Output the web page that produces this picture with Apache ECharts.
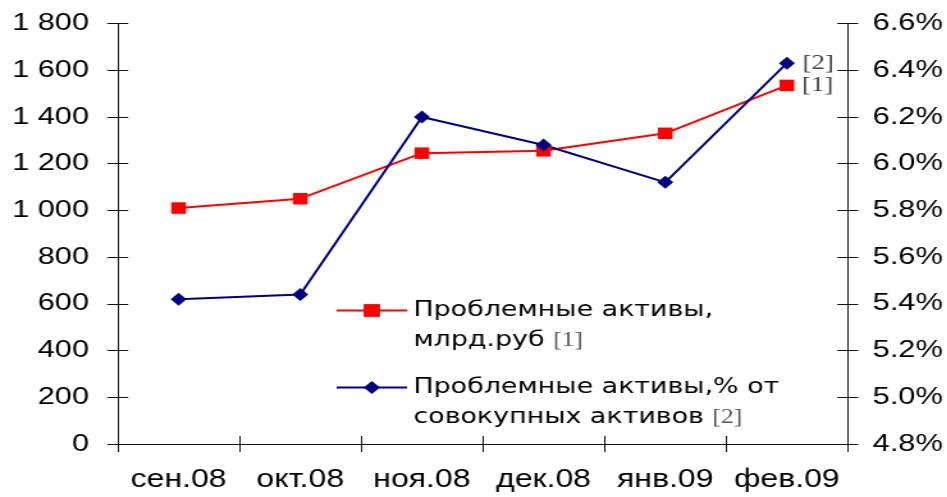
<!DOCTYPE html>
<html>
<head>
<meta charset="utf-8">
<script src="https://cdn.jsdelivr.net/npm/echarts@6/dist/echarts.min.js"></script>
<style>
  html, body { margin: 0; padding: 0; background: #fff; overflow: hidden; }
  /* the chart is laid out narrow and widened, giving the broad lettering of the original */
  #chart { width: 740px; height: 497px; transform: scaleX(1.28); transform-origin: 0 0; }
</style>
</head>
<body>
<div id="chart"></div>
<script>
// Problem assets of the banking sector, Sep 2008 – Feb 2009
const months = ['сен.08', 'окт.08', 'ноя.08', 'дек.08', 'янв.09', 'фев.09'];
const assetsBln = [1010, 1050, 1245, 1255, 1330, 1535];        // bln roubles
const assetsShare = [5.42, 5.44, 6.20, 6.08, 5.92, 6.43];      // % of total assets
const leftScale = { min: 0, max: 1800, interval: 200 };
const rightScale = { min: 4.8, max: 6.6, interval: 0.2 };
const seriesNames = ['Проблемные активы, млрд.руб', 'Проблемные активы,% от совокупных активов'];
const legendLines = [
  ['Проблемные активы,', 'млрд.руб '],
  ['Проблемные активы,% от', 'совокупных активов ']
];
const noteMarks = ['[1]', '[2]'];

const AXIS_COLOR = '#111';
const LABEL_FONT = '"Liberation Sans", Arial, sans-serif';
const NOTE_FONT = '"Liberation Serif", "Times New Roman", serif';

const fmtThousands = v => String(v).replace(/\B(?=(\d{3})+(?!\d))/g, ' ');

// the last point of each series carries its footnote mark
function withEndLabel(values, mark) {
  return values.map((v, i) => i === values.length - 1
    ? { value: v, label: { show: true, formatter: mark } }
    : v);
}

const endLabel = {
  show: false,
  position: 'right',
  distance: 6,
  fontFamily: NOTE_FONT,
  fontSize: 21,
  color: '#444'
};

function legendBlock(idx, top) {
  return {
    data: [seriesNames[idx]],
    orient: 'vertical',
    left: 262,
    top: top,
    padding: 0,
    itemWidth: 55,
    itemHeight: 16,
    itemGap: 0,
    formatter: () => '{t|' + legendLines[idx][0] + '}\n{t|' + legendLines[idx][1] + '}{r|' + noteMarks[idx] + '}',
    textStyle: {
      padding: [30, 0, 0, 0],
      rich: {
        t: { fontFamily: '"DejaVu Sans", sans-serif', fontSize: 21, lineHeight: 30, color: '#000' },
        r: { fontFamily: NOTE_FONT, fontSize: 20, lineHeight: 30, color: '#555' }
      }
    },
    selectedMode: false
  };
}

// ticks crossing the axis: one set outward on the main axes, one inward on twin axes
const tickOut = len => ({ show: true, length: len, inside: false, lineStyle: { color: AXIS_COLOR, width: 1 } });
const tickIn = len => ({ show: true, length: len, inside: true, lineStyle: { color: AXIS_COLOR, width: 1 } });

const option = {
  animation: false,
  backgroundColor: '#fff',
  grid: { left: 92, right: 77.7, top: 23.5, bottom: 53, outerBoundsMode: 'none' },
  legend: [legendBlock(0, 300), legendBlock(1, 377)],
  xAxis: [
    {
      type: 'category',
      data: months,
      position: 'bottom',
      boundaryGap: true,
      axisLine: { show: true, lineStyle: { color: AXIS_COLOR, width: 1 } },
      axisTick: tickOut(8),
      axisLabel: { color: '#000', fontFamily: LABEL_FONT, fontSize: 25, margin: 24, interval: 0 },
      splitLine: { show: false }
    },
    {
      type: 'category',
      data: months,
      position: 'bottom',
      boundaryGap: true,
      axisLine: { show: false },
      axisTick: tickIn(8),
      axisLabel: { show: false },
      splitLine: { show: false }
    }
  ],
  yAxis: [
    {
      type: 'value',
      position: 'left',
      min: leftScale.min, max: leftScale.max, interval: leftScale.interval,
      axisLine: { show: true, lineStyle: { color: AXIS_COLOR, width: 1 } },
      axisTick: tickOut(8.2),
      axisLabel: { color: '#000', fontFamily: LABEL_FONT, fontSize: 24, margin: 22.5, formatter: fmtThousands },
      splitLine: { show: false }
    },
    {
      type: 'value',
      position: 'right',
      min: rightScale.min, max: rightScale.max, interval: rightScale.interval,
      axisLine: { show: true, lineStyle: { color: AXIS_COLOR, width: 1 } },
      axisTick: tickOut(8.2),
      axisLabel: { color: '#000', fontFamily: LABEL_FONT, fontSize: 24, margin: 19.5, formatter: v => v.toFixed(1) + '%' },
      splitLine: { show: false }
    },
    {
      type: 'value',
      position: 'left',
      min: leftScale.min, max: leftScale.max, interval: leftScale.interval,
      axisLine: { show: false },
      axisTick: tickIn(8.2),
      axisLabel: { show: false },
      splitLine: { show: false }
    },
    {
      type: 'value',
      position: 'right',
      min: rightScale.min, max: rightScale.max, interval: rightScale.interval,
      axisLine: { show: false },
      axisTick: tickIn(8.2),
      axisLabel: { show: false },
      splitLine: { show: false }
    }
  ],
  series: [
    {
      name: seriesNames[0],
      type: 'line',
      xAxisIndex: 0,
      yAxisIndex: 0,
      data: withEndLabel(assetsBln, noteMarks[0]),
      symbol: 'rect',
      symbolSize: 11.5,
      color: '#ff0000',
      lineStyle: { color: '#ff0000', width: 2 },
      itemStyle: { color: '#ff0000' },
      label: endLabel,
      emphasis: { disabled: true }
    },
    {
      name: seriesNames[1],
      type: 'line',
      xAxisIndex: 0,
      yAxisIndex: 1,
      data: withEndLabel(assetsShare, noteMarks[1]),
      symbol: 'diamond',
      symbolSize: [12.5, 13],
      color: '#000080',
      lineStyle: { color: '#000080', width: 2 },
      itemStyle: { color: '#000080' },
      label: endLabel,
      emphasis: { disabled: true }
    }
  ]
};

const chart = echarts.init(document.getElementById('chart'), null, { renderer: 'canvas' });
chart.setOption(option);
</script>
</body>
</html>
